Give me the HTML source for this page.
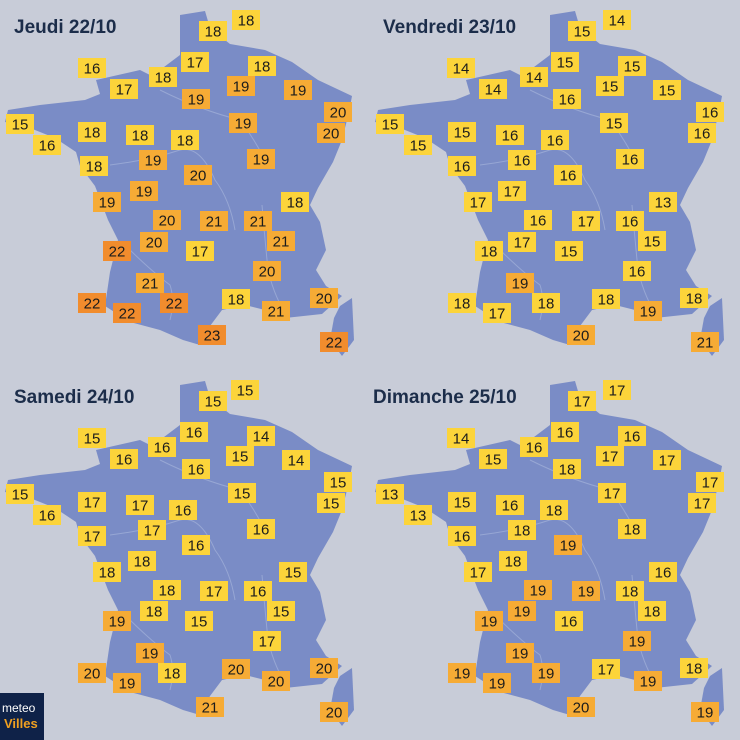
<!DOCTYPE html>
<html><head><meta charset="utf-8"><style>
html,body{margin:0;padding:0;background:#c8ccd8;}
svg{display:block}
text{font-family:"Liberation Sans",sans-serif;}
</style></head><body>
<svg width="740" height="740" viewBox="0 0 740 740" xmlns="http://www.w3.org/2000/svg" xmlns:xlink="http://www.w3.org/1999/xlink">
<rect width="740" height="740" fill="#c8ccd8"/>
<defs>
<g id="fr">
<path d="M180,15 L205,11 L210,28 L230,44 L265,50 L292,62 L318,80 L352,96 L349,112 L342,140 L333,162 L318,188 L310,205 L320,222 L326,250 L316,270 L326,286 L342,296 L322,314 L285,318 L265,310 L245,305 L222,310 L210,326 L200,345 L183,340 L160,330 L130,322 L105,306 L110,272 L118,240 L108,220 L95,186 L80,166 L76,152 L55,138 L30,128 L5,122 L8,110 L40,105 L85,100 L100,94 L96,80 L140,70 L152,76 L168,64 L180,55 Z" fill="#7a8cc6"/>
<path d="M340,306 L352,298 L354,340 L342,356 L330,340 L334,318 Z" fill="#7a8cc6"/>
<path d="M110,165 Q150,160 180,150 Q200,145 215,180 Q230,200 235,230 M160,90 Q200,110 240,120 Q255,140 265,160 M125,245 Q150,270 170,285 Q175,300 170,320 M262,205 Q265,240 268,270 Q275,300 290,320" fill="none" stroke="#a4b2da" stroke-width="1" opacity="0.7"/>
</g>
<rect id="Y" x="-14" y="-10" width="28" height="20" fill="#fcd43a"/>
<rect id="O" x="-14" y="-10" width="28" height="20" fill="#f6ab35"/>
<rect id="D" x="-14" y="-10" width="28" height="20" fill="#f18c2d"/>
</defs>
<use xlink:href="#fr"/>
<use xlink:href="#fr" x="370"/>
<use xlink:href="#fr" y="370"/>
<use xlink:href="#fr" x="370" y="370"/>
<g font-weight="bold" font-size="19" fill="#1c2d4a">
<text x="14" y="33">Jeudi 22/10</text>
<text x="383" y="33">Vendredi 23/10</text>
<text x="14" y="403">Samedi 24/10</text>
<text x="373" y="403">Dimanche 25/10</text>
</g>
<g>
<use xlink:href="#Y" x="213" y="31"/><use xlink:href="#Y" x="246" y="20"/><use xlink:href="#Y" x="92" y="68"/><use xlink:href="#Y" x="124" y="89"/><use xlink:href="#Y" x="163" y="77"/><use xlink:href="#Y" x="195" y="62"/><use xlink:href="#O" x="196" y="99"/><use xlink:href="#O" x="241" y="86"/><use xlink:href="#Y" x="262" y="66"/><use xlink:href="#O" x="298" y="90"/><use xlink:href="#O" x="338" y="112"/><use xlink:href="#O" x="331" y="133"/><use xlink:href="#Y" x="20" y="124"/><use xlink:href="#Y" x="47" y="145"/><use xlink:href="#Y" x="92" y="132"/><use xlink:href="#Y" x="140" y="135"/><use xlink:href="#Y" x="185" y="140"/><use xlink:href="#O" x="153" y="160"/><use xlink:href="#O" x="198" y="175"/><use xlink:href="#O" x="243" y="123"/><use xlink:href="#O" x="261" y="159"/><use xlink:href="#Y" x="94" y="166"/><use xlink:href="#O" x="144" y="191"/><use xlink:href="#O" x="107" y="202"/><use xlink:href="#O" x="167" y="220"/><use xlink:href="#O" x="154" y="242"/><use xlink:href="#O" x="214" y="221"/><use xlink:href="#O" x="258" y="221"/><use xlink:href="#O" x="281" y="241"/><use xlink:href="#Y" x="295" y="202"/><use xlink:href="#Y" x="200" y="251"/><use xlink:href="#D" x="117" y="251"/><use xlink:href="#O" x="267" y="271"/><use xlink:href="#O" x="150" y="283"/><use xlink:href="#D" x="92" y="303"/><use xlink:href="#D" x="127" y="313"/><use xlink:href="#D" x="174" y="303"/><use xlink:href="#Y" x="236" y="299"/><use xlink:href="#O" x="276" y="311"/><use xlink:href="#O" x="324" y="298"/><use xlink:href="#D" x="212" y="335"/><use xlink:href="#D" x="334" y="342"/>
<use xlink:href="#Y" x="582" y="31"/><use xlink:href="#Y" x="617" y="20"/><use xlink:href="#Y" x="461" y="68"/><use xlink:href="#Y" x="493" y="89"/><use xlink:href="#Y" x="534" y="77"/><use xlink:href="#Y" x="565" y="62"/><use xlink:href="#Y" x="567" y="99"/><use xlink:href="#Y" x="610" y="86"/><use xlink:href="#Y" x="632" y="66"/><use xlink:href="#Y" x="667" y="90"/><use xlink:href="#Y" x="710" y="112"/><use xlink:href="#Y" x="702" y="133"/><use xlink:href="#Y" x="390" y="124"/><use xlink:href="#Y" x="418" y="145"/><use xlink:href="#Y" x="462" y="132"/><use xlink:href="#Y" x="510" y="135"/><use xlink:href="#Y" x="555" y="140"/><use xlink:href="#Y" x="522" y="160"/><use xlink:href="#Y" x="568" y="175"/><use xlink:href="#Y" x="614" y="123"/><use xlink:href="#Y" x="630" y="159"/><use xlink:href="#Y" x="462" y="166"/><use xlink:href="#Y" x="512" y="191"/><use xlink:href="#Y" x="478" y="202"/><use xlink:href="#Y" x="538" y="220"/><use xlink:href="#Y" x="522" y="242"/><use xlink:href="#Y" x="586" y="221"/><use xlink:href="#Y" x="630" y="221"/><use xlink:href="#Y" x="652" y="241"/><use xlink:href="#Y" x="663" y="202"/><use xlink:href="#Y" x="569" y="251"/><use xlink:href="#Y" x="489" y="251"/><use xlink:href="#Y" x="637" y="271"/><use xlink:href="#O" x="520" y="283"/><use xlink:href="#Y" x="462" y="303"/><use xlink:href="#Y" x="497" y="313"/><use xlink:href="#Y" x="546" y="303"/><use xlink:href="#Y" x="606" y="299"/><use xlink:href="#O" x="648" y="311"/><use xlink:href="#Y" x="694" y="298"/><use xlink:href="#O" x="581" y="335"/><use xlink:href="#O" x="705" y="342"/>
<use xlink:href="#Y" x="213" y="401"/><use xlink:href="#Y" x="245" y="390"/><use xlink:href="#Y" x="92" y="438"/><use xlink:href="#Y" x="124" y="459"/><use xlink:href="#Y" x="162" y="447"/><use xlink:href="#Y" x="194" y="432"/><use xlink:href="#Y" x="196" y="469"/><use xlink:href="#Y" x="240" y="456"/><use xlink:href="#Y" x="261" y="436"/><use xlink:href="#Y" x="296" y="460"/><use xlink:href="#Y" x="338" y="482"/><use xlink:href="#Y" x="331" y="503"/><use xlink:href="#Y" x="20" y="494"/><use xlink:href="#Y" x="47" y="515"/><use xlink:href="#Y" x="92" y="502"/><use xlink:href="#Y" x="140" y="505"/><use xlink:href="#Y" x="183" y="510"/><use xlink:href="#Y" x="152" y="530"/><use xlink:href="#Y" x="196" y="545"/><use xlink:href="#Y" x="242" y="493"/><use xlink:href="#Y" x="261" y="529"/><use xlink:href="#Y" x="92" y="536"/><use xlink:href="#Y" x="142" y="561"/><use xlink:href="#Y" x="107" y="572"/><use xlink:href="#Y" x="167" y="590"/><use xlink:href="#Y" x="154" y="611"/><use xlink:href="#Y" x="214" y="591"/><use xlink:href="#Y" x="258" y="591"/><use xlink:href="#Y" x="281" y="611"/><use xlink:href="#Y" x="293" y="572"/><use xlink:href="#Y" x="199" y="621"/><use xlink:href="#O" x="117" y="621"/><use xlink:href="#Y" x="267" y="641"/><use xlink:href="#O" x="150" y="653"/><use xlink:href="#O" x="92" y="673"/><use xlink:href="#O" x="127" y="683"/><use xlink:href="#Y" x="172" y="673"/><use xlink:href="#O" x="236" y="669"/><use xlink:href="#O" x="276" y="681"/><use xlink:href="#O" x="324" y="668"/><use xlink:href="#O" x="210" y="707"/><use xlink:href="#O" x="334" y="712"/>
<use xlink:href="#Y" x="582" y="401"/><use xlink:href="#Y" x="617" y="390"/><use xlink:href="#Y" x="461" y="438"/><use xlink:href="#Y" x="493" y="459"/><use xlink:href="#Y" x="534" y="447"/><use xlink:href="#Y" x="565" y="432"/><use xlink:href="#Y" x="567" y="469"/><use xlink:href="#Y" x="610" y="456"/><use xlink:href="#Y" x="632" y="436"/><use xlink:href="#Y" x="667" y="460"/><use xlink:href="#Y" x="710" y="482"/><use xlink:href="#Y" x="702" y="503"/><use xlink:href="#Y" x="390" y="494"/><use xlink:href="#Y" x="418" y="515"/><use xlink:href="#Y" x="462" y="502"/><use xlink:href="#Y" x="510" y="505"/><use xlink:href="#Y" x="554" y="510"/><use xlink:href="#Y" x="522" y="530"/><use xlink:href="#O" x="568" y="545"/><use xlink:href="#Y" x="612" y="493"/><use xlink:href="#Y" x="632" y="529"/><use xlink:href="#Y" x="462" y="536"/><use xlink:href="#Y" x="513" y="561"/><use xlink:href="#Y" x="478" y="572"/><use xlink:href="#O" x="538" y="590"/><use xlink:href="#O" x="522" y="611"/><use xlink:href="#O" x="586" y="591"/><use xlink:href="#Y" x="630" y="591"/><use xlink:href="#Y" x="652" y="611"/><use xlink:href="#Y" x="663" y="572"/><use xlink:href="#Y" x="569" y="621"/><use xlink:href="#O" x="489" y="621"/><use xlink:href="#O" x="637" y="641"/><use xlink:href="#O" x="520" y="653"/><use xlink:href="#O" x="462" y="673"/><use xlink:href="#O" x="497" y="683"/><use xlink:href="#O" x="546" y="673"/><use xlink:href="#Y" x="606" y="669"/><use xlink:href="#O" x="648" y="681"/><use xlink:href="#Y" x="694" y="668"/><use xlink:href="#O" x="581" y="707"/><use xlink:href="#O" x="705" y="712"/>
</g>
<g font-size="15" text-anchor="middle" fill="#1c1c1c" transform="translate(0,5.5)">
<text x="213" y="31">18</text><text x="246" y="20">18</text><text x="92" y="68">16</text><text x="124" y="89">17</text><text x="163" y="77">18</text><text x="195" y="62">17</text><text x="196" y="99">19</text><text x="241" y="86">19</text><text x="262" y="66">18</text><text x="298" y="90">19</text><text x="338" y="112">20</text><text x="331" y="133">20</text><text x="20" y="124">15</text><text x="47" y="145">16</text><text x="92" y="132">18</text><text x="140" y="135">18</text><text x="185" y="140">18</text><text x="153" y="160">19</text><text x="198" y="175">20</text><text x="243" y="123">19</text><text x="261" y="159">19</text><text x="94" y="166">18</text><text x="144" y="191">19</text><text x="107" y="202">19</text><text x="167" y="220">20</text><text x="154" y="242">20</text><text x="214" y="221">21</text><text x="258" y="221">21</text><text x="281" y="241">21</text><text x="295" y="202">18</text><text x="200" y="251">17</text><text x="117" y="251">22</text><text x="267" y="271">20</text><text x="150" y="283">21</text><text x="92" y="303">22</text><text x="127" y="313">22</text><text x="174" y="303">22</text><text x="236" y="299">18</text><text x="276" y="311">21</text><text x="324" y="298">20</text><text x="212" y="335">23</text><text x="334" y="342">22</text>
<text x="582" y="31">15</text><text x="617" y="20">14</text><text x="461" y="68">14</text><text x="493" y="89">14</text><text x="534" y="77">14</text><text x="565" y="62">15</text><text x="567" y="99">16</text><text x="610" y="86">15</text><text x="632" y="66">15</text><text x="667" y="90">15</text><text x="710" y="112">16</text><text x="702" y="133">16</text><text x="390" y="124">15</text><text x="418" y="145">15</text><text x="462" y="132">15</text><text x="510" y="135">16</text><text x="555" y="140">16</text><text x="522" y="160">16</text><text x="568" y="175">16</text><text x="614" y="123">15</text><text x="630" y="159">16</text><text x="462" y="166">16</text><text x="512" y="191">17</text><text x="478" y="202">17</text><text x="538" y="220">16</text><text x="522" y="242">17</text><text x="586" y="221">17</text><text x="630" y="221">16</text><text x="652" y="241">15</text><text x="663" y="202">13</text><text x="569" y="251">15</text><text x="489" y="251">18</text><text x="637" y="271">16</text><text x="520" y="283">19</text><text x="462" y="303">18</text><text x="497" y="313">17</text><text x="546" y="303">18</text><text x="606" y="299">18</text><text x="648" y="311">19</text><text x="694" y="298">18</text><text x="581" y="335">20</text><text x="705" y="342">21</text>
<text x="213" y="401">15</text><text x="245" y="390">15</text><text x="92" y="438">15</text><text x="124" y="459">16</text><text x="162" y="447">16</text><text x="194" y="432">16</text><text x="196" y="469">16</text><text x="240" y="456">15</text><text x="261" y="436">14</text><text x="296" y="460">14</text><text x="338" y="482">15</text><text x="331" y="503">15</text><text x="20" y="494">15</text><text x="47" y="515">16</text><text x="92" y="502">17</text><text x="140" y="505">17</text><text x="183" y="510">16</text><text x="152" y="530">17</text><text x="196" y="545">16</text><text x="242" y="493">15</text><text x="261" y="529">16</text><text x="92" y="536">17</text><text x="142" y="561">18</text><text x="107" y="572">18</text><text x="167" y="590">18</text><text x="154" y="611">18</text><text x="214" y="591">17</text><text x="258" y="591">16</text><text x="281" y="611">15</text><text x="293" y="572">15</text><text x="199" y="621">15</text><text x="117" y="621">19</text><text x="267" y="641">17</text><text x="150" y="653">19</text><text x="92" y="673">20</text><text x="127" y="683">19</text><text x="172" y="673">18</text><text x="236" y="669">20</text><text x="276" y="681">20</text><text x="324" y="668">20</text><text x="210" y="707">21</text><text x="334" y="712">20</text>
<text x="582" y="401">17</text><text x="617" y="390">17</text><text x="461" y="438">14</text><text x="493" y="459">15</text><text x="534" y="447">16</text><text x="565" y="432">16</text><text x="567" y="469">18</text><text x="610" y="456">17</text><text x="632" y="436">16</text><text x="667" y="460">17</text><text x="710" y="482">17</text><text x="702" y="503">17</text><text x="390" y="494">13</text><text x="418" y="515">13</text><text x="462" y="502">15</text><text x="510" y="505">16</text><text x="554" y="510">18</text><text x="522" y="530">18</text><text x="568" y="545">19</text><text x="612" y="493">17</text><text x="632" y="529">18</text><text x="462" y="536">16</text><text x="513" y="561">18</text><text x="478" y="572">17</text><text x="538" y="590">19</text><text x="522" y="611">19</text><text x="586" y="591">19</text><text x="630" y="591">18</text><text x="652" y="611">18</text><text x="663" y="572">16</text><text x="569" y="621">16</text><text x="489" y="621">19</text><text x="637" y="641">19</text><text x="520" y="653">19</text><text x="462" y="673">19</text><text x="497" y="683">19</text><text x="546" y="673">19</text><text x="606" y="669">17</text><text x="648" y="681">19</text><text x="694" y="668">18</text><text x="581" y="707">20</text><text x="705" y="712">19</text>
</g>
<rect x="0" y="693" width="44" height="47" fill="#0f2248"/>
<text x="2" y="712" font-size="12" fill="#fff">meteo</text>
<text x="4" y="728" font-size="13" font-weight="bold" fill="#f0a020">Villes</text>
</svg>
</body></html>
